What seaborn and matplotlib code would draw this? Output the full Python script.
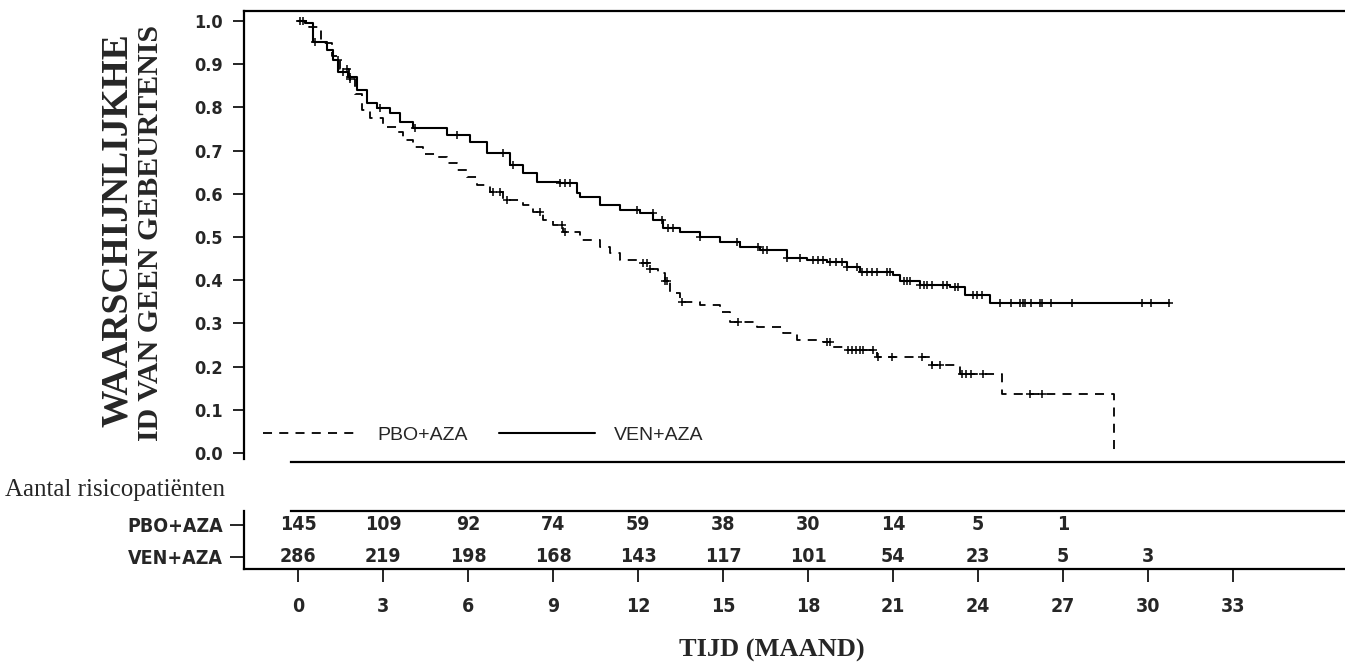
import numpy as np
import pandas as pd
import matplotlib
matplotlib.use("Agg")
import matplotlib.pyplot as plt
from matplotlib.font_manager import FontProperties
import seaborn as sns

# ---------------- data ----------------
ven_times = [0.0, 0.25, 0.53, 1.01, 1.25, 1.42, 1.78, 2.07, 2.43, 2.78, 3.25, 3.60, 4.07, 5.25,
             6.07, 6.66, 7.48, 7.95, 8.43, 9.25, 9.84, 9.95, 10.66, 11.37, 12.07, 12.54, 12.89,
             13.48, 14.19, 14.90, 15.60, 16.31, 17.25, 17.96, 18.66, 19.37, 19.84, 21.01, 21.25,
             21.96, 23.00, 23.54, 24.43, 30.75]
ven_surv = [1.0, 0.995, 0.952, 0.933, 0.910, 0.883, 0.871, 0.840, 0.810, 0.799, 0.787, 0.767, 0.752,
            0.736, 0.720, 0.694, 0.667, 0.647, 0.628, 0.624, 0.601, 0.593, 0.574, 0.5625, 0.555,
            0.539, 0.520, 0.512, 0.501, 0.489, 0.478, 0.470, 0.451, 0.447, 0.443, 0.431, 0.420,
            0.412, 0.397, 0.389, 0.385, 0.366, 0.347, 0.347]
ven_censor = [0.07, 0.18, 0.60, 1.41, 1.59, 1.84, 2.89, 4.13, 5.60, 7.24, 7.59, 9.25, 9.42, 9.60,
              11.96, 12.53, 12.85, 13.06, 13.24, 14.19, 15.49, 16.24, 16.41, 16.55, 17.25, 17.72,
              18.18, 18.36, 18.53, 18.78, 18.99, 19.20, 19.37, 19.72, 19.91, 20.09, 20.26, 20.44,
              20.78, 20.90, 21.40, 21.50, 21.60, 21.96, 22.10, 22.21, 22.37, 22.77, 22.91, 23.19,
              23.30, 23.83, 23.97, 24.15, 24.78, 25.16, 25.48, 25.59, 25.66, 25.87, 26.19, 26.25,
              26.57, 27.33, 29.78, 30.10, 30.75]

pbo_times = [0.0, 0.4, 0.8, 1.2, 1.5, 1.8, 2.0, 2.25, 2.54, 3.01, 3.48, 3.72, 4.07, 4.42, 4.90,
             5.25, 5.60, 5.95, 6.31, 6.78, 7.25, 7.95, 8.31, 8.66, 9.01, 9.36, 9.95, 10.66, 11.01,
             11.37, 12.07, 12.42, 12.72, 12.95, 13.13, 13.48, 14.19, 14.90, 15.25, 16.19, 17.13,
             17.60, 18.54, 18.90, 19.37, 20.43, 22.37, 23.37, 24.84, 28.80]
pbo_surv = [1.0, 0.986, 0.950, 0.920, 0.890, 0.865, 0.830, 0.794, 0.775, 0.755, 0.744, 0.725, 0.709,
            0.692, 0.686, 0.671, 0.655, 0.640, 0.620, 0.605, 0.586, 0.574, 0.559, 0.539, 0.528,
            0.512, 0.493, 0.478, 0.462, 0.447, 0.439, 0.427, 0.416, 0.397, 0.370, 0.350, 0.343,
            0.327, 0.304, 0.292, 0.277, 0.262, 0.258, 0.246, 0.238, 0.223, 0.204, 0.184, 0.137, 0.0]
pbo_censor = [1.73, 1.84, 6.88, 7.13, 7.38, 8.54, 9.31, 9.42, 12.18, 12.32, 12.42, 12.95, 13.02,
              13.54, 15.53, 18.66, 18.78, 19.41, 19.55, 19.69, 19.84, 19.94, 20.30, 20.47, 20.96,
              22.02, 22.37, 22.66, 23.43, 23.58, 23.76, 24.18, 25.84, 26.25]

group_names = ["PBO+AZA", "VEN+AZA"]
risk_times = [0, 3, 6, 9, 12, 15, 18, 21, 24, 27, 30]
pbo_at_risk = [145, 109, 92, 74, 59, 38, 30, 14, 5, 1]
ven_at_risk = [286, 219, 198, 168, 143, 117, 101, 54, 23, 5, 3]
x_ticks = [0, 3, 6, 9, 12, 15, 18, 21, 24, 27, 30, 33]
y_ticks = [0.0, 0.1, 0.2, 0.3, 0.4, 0.5, 0.6, 0.7, 0.8, 0.9, 1.0]

ylabel_lines = ["WAARSCHIJNLIJKHE", "ID VAN GEEN GEBEURTENIS"]
xlabel_text = "TIJD (MAAND)"
risk_title = "Aantal risicopatiënten"

# ---------------- styling ----------------
sns.set_style("white")
plt.rcParams["font.family"] = ["DejaVu Sans"]

W, H = 1345, 662
fig = plt.figure(figsize=(W / 100, H / 100), dpi=100)


def box(left, top, right, bottom):
    return [left / W, (H - bottom) / H, (right - left) / W, (bottom - top) / H]


tick_fp = FontProperties(family="DejaVu Sans", weight="bold", stretch="condensed", size=13)
num_fp = FontProperties(family="DejaVu Sans", weight="bold", stretch="condensed", size=14)
serif_bold = ["Liberation Serif", "DejaVu Serif"]

x0_px, px_per_month = 298.0, 28.33
xlim = ((244 - x0_px) / px_per_month, (1345 - x0_px) / px_per_month)
spine_lw = 1.6

# ---------------- KM panel ----------------
ax = fig.add_axes(box(244, 10.5, 1345, 459))
ax.set_xlim(*xlim)
ax.set_ylim((453 - 459) / 432, (453 - 10.5) / 432)

sns.lineplot(x=pbo_times, y=pbo_surv, ax=ax, color="black", lw=1.3, linestyle=(0, (5, 4)),
             drawstyle="steps-post", estimator=None, sort=False)
sns.lineplot(x=ven_times, y=ven_surv, ax=ax, color="black", lw=1.5,
             drawstyle="steps-post", estimator=None, sort=False)
pbo_line, ven_line = ax.lines[0], ax.lines[1]


def at(times, surv, c):
    idx = np.searchsorted(np.asarray(times), np.asarray(c), side="right") - 1
    return np.asarray(surv)[idx]


sns.scatterplot(x=pbo_censor, y=at(pbo_times, pbo_surv, pbo_censor), ax=ax, marker="+",
                color="black", s=30, linewidth=1.1, legend=False)
sns.scatterplot(x=ven_censor, y=at(ven_times, ven_surv, ven_censor), ax=ax, marker="+",
                color="black", s=30, linewidth=1.1, legend=False)

ax.set_yticks(y_ticks)
ax.set_yticklabels([f"{v:.1f}" for v in y_ticks])
for lbl in ax.get_yticklabels():
    lbl.set_fontproperties(tick_fp)
ax.set_xticks([])
ax.tick_params(axis="y", left=True, length=8, width=1.2, pad=7, color="black")
for s in ["bottom", "right"]:
    ax.spines[s].set_visible(False)
for s in ["left", "top"]:
    ax.spines[s].set_linewidth(spine_lw)
    ax.spines[s].set_color("black")
ax.set_xlabel("")
ax.set_ylabel("")

leg = ax.legend(handles=[pbo_line, ven_line], labels=group_names, ncol=2, frameon=False,
                loc="center left", bbox_to_anchor=(263 / W, (H - 435) / H),
                bbox_transform=fig.transFigure, borderpad=0, borderaxespad=0,
                handlelength=4.9, handletextpad=1.0, columnspacing=1.6,
                prop={"family": ["Liberation Sans", "DejaVu Sans"], "size": 14})

# ---------------- band with the "at risk" title ----------------
band = fig.add_axes(box(291, 462, 1345, 511))
band.set_xticks([])
band.set_yticks([])
for s in ["left", "right"]:
    band.spines[s].set_visible(False)
for s in ["top", "bottom"]:
    band.spines[s].set_linewidth(spine_lw)
    band.spines[s].set_color("black")
band.patch.set_alpha(0)
fig.text(5 / W, (H - 490) / H, risk_title, family=["Liberation Serif", "DejaVu Serif"],
         size=18, ha="left", va="center")

# ---------------- risk table ----------------
tab = fig.add_axes(box(244, 511, 1345, 569))
tab.set_xlim(*xlim)
tab.set_ylim(0, 1)
row_y = {"PBO+AZA": (569 - 525) / 58, "VEN+AZA": (569 - 557) / 58}
for name, counts in zip(group_names, [pbo_at_risk, ven_at_risk]):
    for t, n in zip(risk_times, counts):
        tab.text(t, row_y[name], str(n), ha="center", va="center", fontproperties=num_fp)
tab.set_yticks([row_y[g] for g in group_names])
tab.set_yticklabels(group_names)
for lbl in tab.get_yticklabels():
    lbl.set_fontproperties(num_fp)
tab.set_xticks(x_ticks)
tab.set_xticklabels([str(v) for v in x_ticks])
for lbl in tab.get_xticklabels():
    lbl.set_fontproperties(num_fp)
tab.tick_params(axis="y", left=True, length=10, width=1.2, pad=5, color="black")
tab.tick_params(axis="x", bottom=True, length=9, width=1.2, pad=11, color="black")
for s in ["top", "right"]:
    tab.spines[s].set_visible(False)
for s in ["left", "bottom"]:
    tab.spines[s].set_linewidth(spine_lw)
    tab.spines[s].set_color("black")
tab.patch.set_alpha(0)

# ---------------- axis titles ----------------
fig.text(117 / W, (H - 230) / H, ylabel_lines[0], rotation=90, ha="center", va="center",
         family=serif_bold, weight="bold", size=27)
fig.text(151 / W, (H - 233) / H, ylabel_lines[1], rotation=90, ha="center", va="center",
         family=serif_bold, weight="bold", size=21.5)
fig.text(772 / W, (H - 650) / H, xlabel_text, ha="center", va="center",
         family=serif_bold, weight="bold", size=19)

fig.savefig("out.png", dpi=100)
